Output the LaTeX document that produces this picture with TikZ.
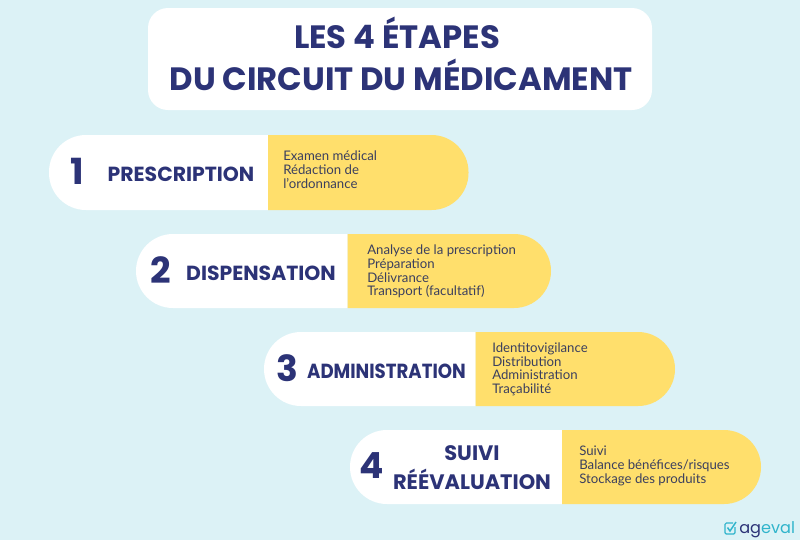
\documentclass[tikz,border=0pt]{standalone}
\usepackage{fontspec}
\setmainfont{Lato}
\definecolor{bgblue}{HTML}{DCF2F6}
\definecolor{navy}{HTML}{2C3377}
\definecolor{sun}{HTML}{FFDF6C}
\definecolor{ink}{HTML}{3B3F5E}
\definecolor{teal}{HTML}{2FB4CB}
\tikzset{
  x=0.75pt,y=-0.75pt,
  num/.style={text=navy,font=\fontspec{Poppins Bold}\fontsize{27}{27}\selectfont,inner sep=0pt,anchor=center},
  head/.style={text=navy,font=\fontspec{Poppins Bold}\fontsize{15.3}{15.3}\selectfont,inner sep=0pt,anchor=center},
  headwide/.style={head,font=\fontspec{Poppins Bold}\fontsize{15.7}{15.7}\selectfont},
  body/.style={text=ink,font=\fontsize{9.9}{10.2}\selectfont,inner sep=0pt,anchor=north west,align=left},
  titletext/.style={text=navy,font=\fontspec{Poppins Bold}\fontsize{24.2}{24.2}\selectfont,inner sep=0pt,anchor=center},
}
% #1 left, #2 split, #3 right, #4 top, #5 bottom
\newcommand{\pillshape}[5]{%
  \fill[white,rounded corners=27.7pt] (#2,#4) [sharp corners] -- (#2,#4) [rounded corners=27.7pt] -- (#1,#4) -- (#1,#5) [sharp corners] -- (#2,#5) -- cycle;
  \fill[sun,rounded corners=27.7pt] (#2,#4) -- (#3,#4) -- (#3,#5) [sharp corners] -- (#2,#5) -- cycle;
}
\begin{document}
\begin{tikzpicture}
\useasboundingbox (0,0) rectangle (800,540);
\fill[bgblue] (0,0) rectangle (800,540);
\fill[white,rounded corners=15pt] (148,8) rectangle (652,110);
\node[titletext] (t1) at (397,33) {LES 4 ÉTAPES};
\node[titletext] (t2) at (401,75) {DU CIRCUIT DU MÉDICAMENT};

\pillshape{49}{268}{468.5}{135}{210}
\node[num] (n1) at (77,171) {1};
\node[head] (h1) at (181,174.5) {PRESCRIPTION};
\node[body] (b1) at (283,151) {Examen médical\\Rédaction de\\l'ordonnance};

\pillshape{136}{347.5}{551}{234}{308}
\node[num] (n2) at (161,270) {2};
\node[head] (h2) at (261,273) {DISPENSATION};
\node[body] (b2) at (367,245) {Analyse de la prescription\\Préparation\\Délivrance\\Transport (facultatif)};

\pillshape{264}{475.5}{675}{332}{406}
\node[num] (n3) at (287,368) {3};
\node[head] (h3) at (386.5,371) {\scalebox{0.89}[1]{ADMINISTRATION}};
\node[body] (b3) at (492,342.5) {Identitovigilance\\Distribution\\Administration\\Traçabilité};

\pillshape{350}{562}{761}{430}{504}
\node[num] (n4) at (372,466) {4};
\node[headwide] (h4a) at (472,453) {SUIVI};
\node[headwide] (h4b) at (472,479.5) {RÉÉVALUATION};
\node[body] (b4) at (579,446) {Suivi\\Balance bénéfices/risques\\Stockage des produits};

% logo
\draw[teal,line width=0.9pt,rounded corners=1pt] (733,523) -- (725,523) -- (725,534) -- (735,534) -- (735,527);
\draw[teal,line width=1.1pt] (727.5,527.5) -- (730,531) -- (736,522);
\node[inner sep=0pt,anchor=base west,font=\fontspec{Poppins}\fontsize{12.1}{12.1}\selectfont] (logo) at (739,533) {\textcolor{navy}{ag}\textcolor{teal}{eval}};
\end{tikzpicture}
\end{document}
